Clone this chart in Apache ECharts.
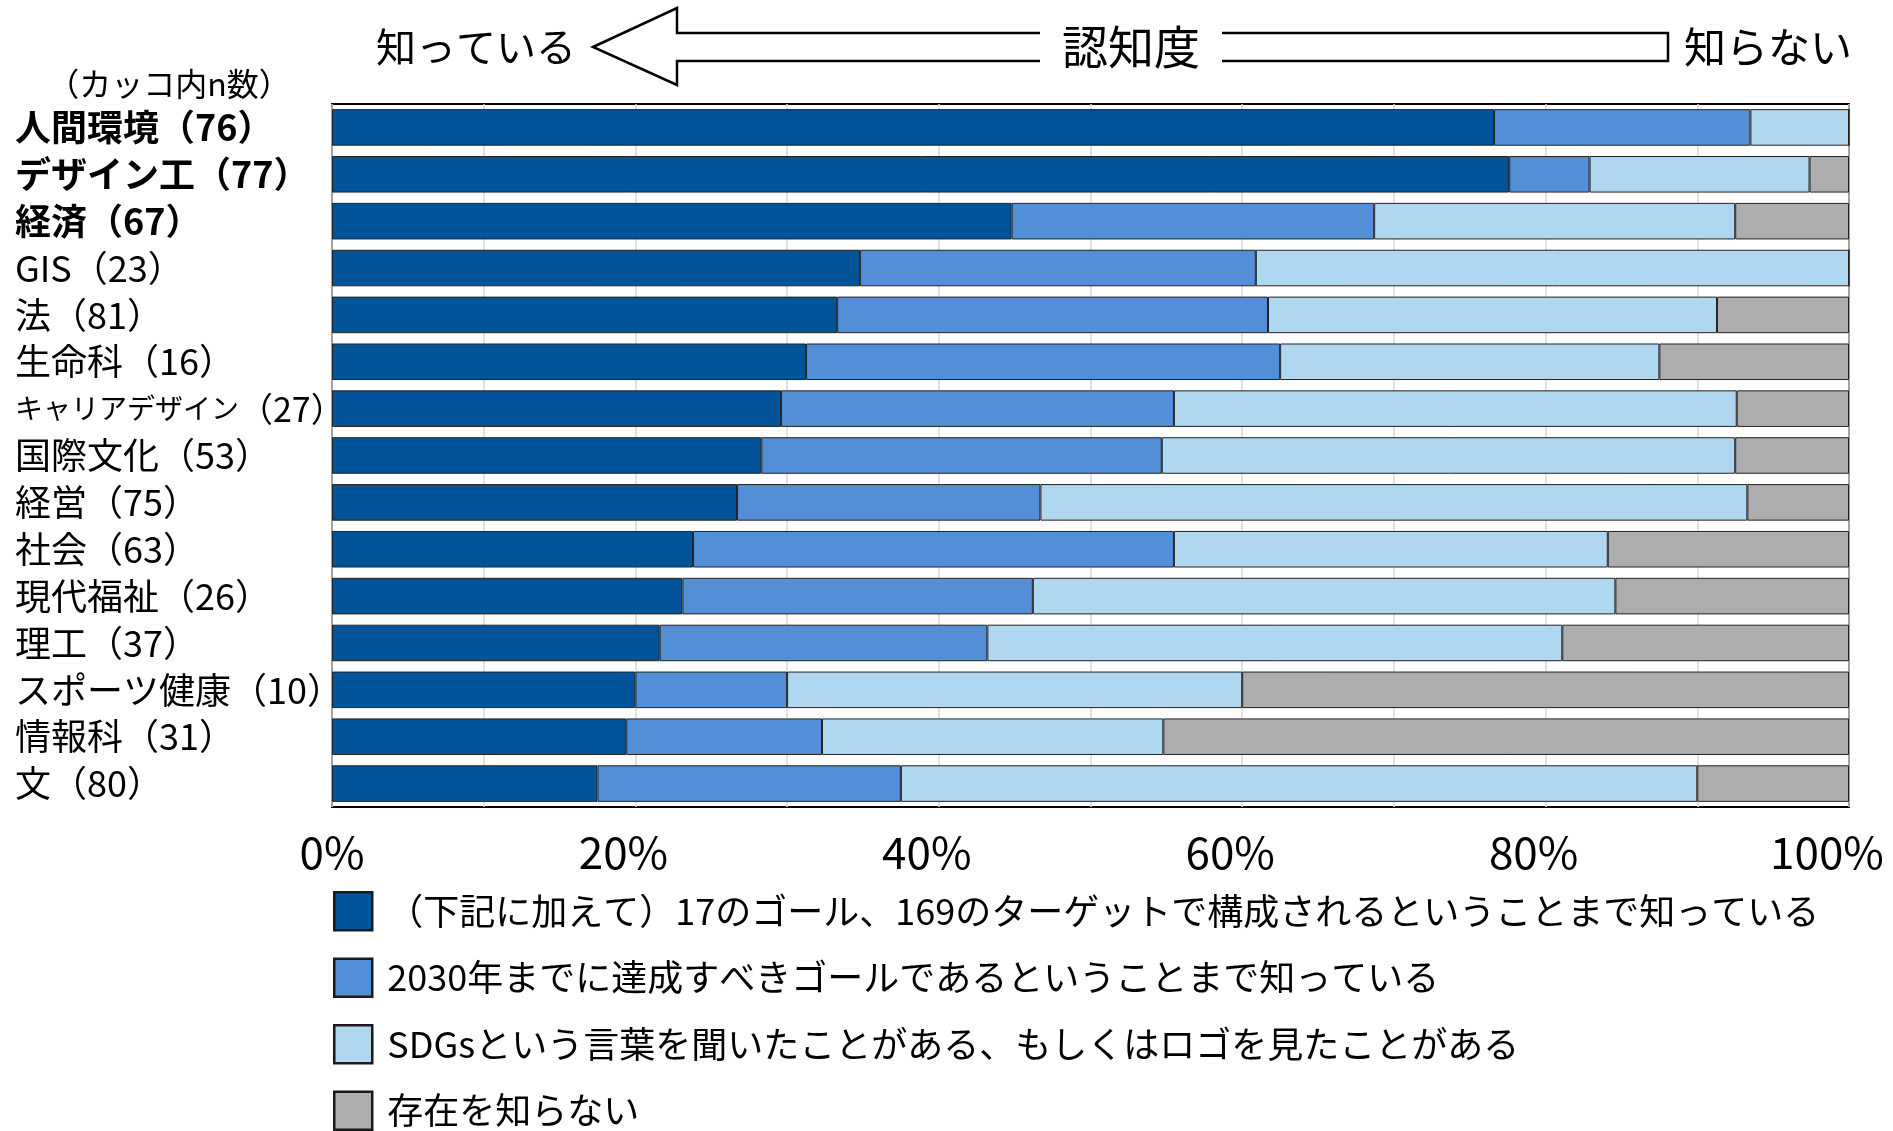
<!DOCTYPE html>
<html>
<head>
<meta charset="utf-8">
<script src="https://cdn.jsdelivr.net/npm/echarts@6/dist/echarts.min.js"></script>
<style>
html,body{margin:0;padding:0;background:#fff;}
#chart{width:1893px;height:1131px;}
</style>
</head>
<body>
<div id="chart"></div>
<script>
const categories = ['人間環境（76）','デザイン工（77）','経済（67）','GIS（23）','法（81）','生命科（16）','キャリアデザイン（27）','国際文化（53）','経営（75）','社会（63）','現代福祉（26）','理工（37）','スポーツ健康（10）','情報科（31）','文（80）'];
const boldCount = 3;
const seriesNames = [
  '（下記に加えて）17のゴール、169のターゲットで構成されるということまで知っている',
  '2030年までに達成すべきゴールであるということまで知っている',
  'SDGsという言葉を聞いたことがある、もしくはロゴを見たことがある',
  '存在を知らない'
];
const knowGoals169 = [76.6, 77.6, 44.8, 34.8, 33.3, 31.25, 29.6, 28.3, 26.7, 23.8, 23.1, 21.6, 20.0, 19.4, 17.5];
const knowGoal2030 = [16.9, 5.3, 23.9, 26.1, 28.4, 31.25, 25.9, 26.4, 20.0, 31.7, 23.1, 21.6, 10.0, 12.9, 20.0];
const heardWord    = [6.5, 14.5, 23.8, 39.1, 29.6, 25.0, 37.1, 37.8, 46.6, 28.6, 38.4, 37.9, 30.0, 22.5, 52.5];
const notKnow      = [0, 2.6, 7.5, 0, 8.7, 12.5, 7.4, 7.5, 6.7, 15.9, 15.4, 18.9, 40.0, 45.2, 10.0];
const seriesValues = [knowGoals169, knowGoal2030, heardWord, notKnow];
const colors = ['#02549A', '#528FD7', '#AFD7F0', '#ADADAD'];
const xTickLabels = ['0%','20%','40%','60%','80%','100%'];

const FONT = '"Noto Sans CJK JP", "Noto Sans", sans-serif';
const chart = echarts.init(document.getElementById('chart'), null, {renderer:'canvas'});

const option = {
  backgroundColor: '#fff',
  animation: false,
  textStyle: { fontFamily: FONT, color: '#000' },
  grid: { left: 332, right: 44, top: 104, bottom: 324, show: true, borderColor: '#000', borderWidth: 2, backgroundColor: '#fff' },
  xAxis: {
    type: 'value', min: 0, max: 100, interval: 20,
    axisLine: { show: false }, axisTick: { show: false },
    splitLine: { show: true, lineStyle: { color: '#d9d9d9', width: 1.5 } },
    minorTick: { show: false, splitNumber: 2 },
    minorSplitLine: { show: true, lineStyle: { color: '#d9d9d9', width: 1.5 } },
    axisLabel: {
      margin: 23, fontSize: 44, color: '#000', fontFamily: FONT,
      formatter: function (v) {
        const t = xTickLabels[Math.round(v / 20)];
        if (v === 0) return '{z|' + t + '}';
        return v === 100 ? '{e|' + t + '}' : '{m|' + t + '}';
      },
      rich: {
        z: { fontSize: 44, fontFamily: FONT, color: '#000' },
        m: { fontSize: 44, fontFamily: FONT, color: '#000', padding: [0, 24, 0, 0] },
        e: { fontSize: 44, fontFamily: FONT, color: '#000', padding: [0, 44, 0, 0] }
      }
    }
  },
  yAxis: {
    type: 'category', data: categories, inverse: true,
    axisLine: { show: false }, axisTick: { show: false },
    axisLabel: {
      align: 'left', margin: 317, color: '#000', fontFamily: FONT,
      formatter: function (v, i) {
        if (i < boldCount) return '{b|' + v + '}';
        if (v.length > 11) {
          const p = v.indexOf('（');
          return '{s|' + v.slice(0, p) + '}{t|' + v.slice(p) + '}';
        }
        return '{n|' + v + '}';
      },
      rich: {
        b: { fontSize: 36, fontWeight: 'bold', fontFamily: FONT, color: '#000' },
        n: { fontSize: 36, fontFamily: FONT, color: '#000' },
        s: { fontSize: 28, fontFamily: FONT, color: '#000' },
        t: { fontSize: 34, fontFamily: FONT, color: '#000' }
      }
    }
  },
  legend: {
    orient: 'vertical', left: 333, top: 891, padding: 0,
    itemWidth: 38, itemHeight: 38, itemGap: 26,
    selectedMode: false, icon: 'rect',
    itemStyle: { borderColor: '#1a1a1a', borderWidth: 2.5 },
    textStyle: { fontSize: 36, fontFamily: FONT, color: '#000', lineHeight: 38, padding: [0, 0, 0, 10] },
    data: seriesNames
  },
  graphic: [
    { type: 'polygon', shape: { points: [[593,47],[677,8],[677,33],[1668,33],[1668,61],[677,61],[677,85]] },
      style: { fill: '#fff', stroke: '#000', lineWidth: 2.5 } },
    { type: 'rect', shape: { x: 1040, y: 22, width: 182, height: 50 }, style: { fill: '#fff' } },
    { type: 'text', x: 1131, y: 47, style: { text: '認知度', fontSize: 46, fontFamily: FONT, fill: '#000', align: 'center', verticalAlign: 'middle' } },
    { type: 'text', x: 476, y: 47, style: { text: '知っている', fontSize: 40, fontFamily: FONT, fill: '#000', align: 'center', verticalAlign: 'middle' } },
    { type: 'text', x: 1768, y: 47, style: { text: '知らない', fontSize: 42, fontFamily: FONT, fill: '#000', align: 'center', verticalAlign: 'middle' } },
    { type: 'text', x: 169, y: 84, style: { text: '（カッコ内n数）', fontSize: 32, fontFamily: FONT, fill: '#000', align: 'center', verticalAlign: 'middle' } }
  ],
  series: seriesValues.map(function (vals, k) {
    return {
      name: seriesNames[k], type: 'bar', stack: 'total',
      barCategoryGap: '22%',
      itemStyle: { color: colors[k], borderColor: '#222', borderWidth: 1 },
      data: vals
    };
  })
};
chart.setOption(option);
</script>
</body>
</html>
